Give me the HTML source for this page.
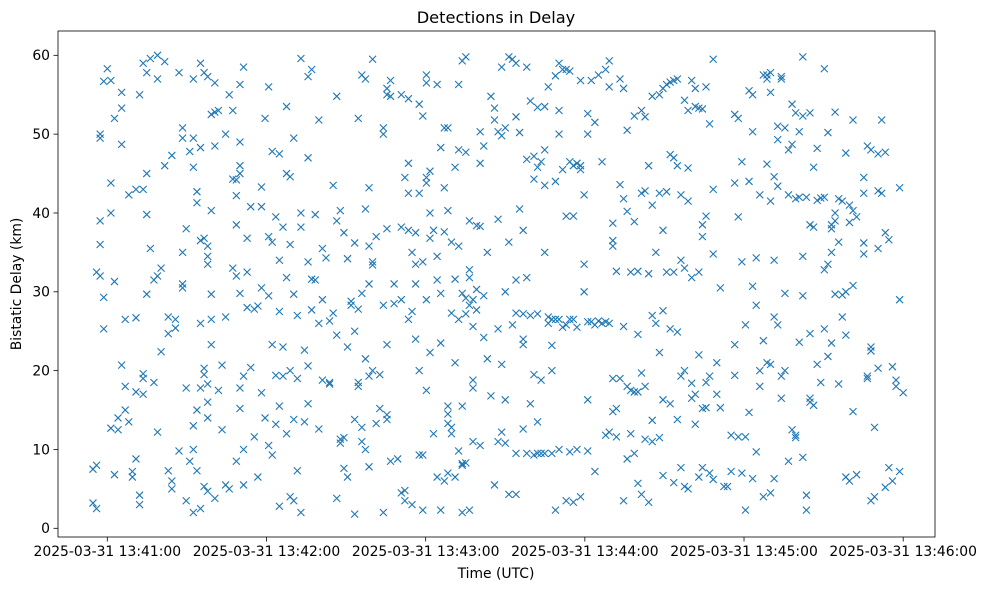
<!DOCTYPE html>
<html><head><meta charset="utf-8"><style>
body{margin:0;background:#fff;}
svg{display:block;font-family:"DejaVu Sans","Liberation Sans",sans-serif;}
</style></head><body>
<svg id="chart" width="986" height="590" viewBox="0 0 986 590" xmlns="http://www.w3.org/2000/svg">
<rect x="0" y="0" width="986" height="590" fill="#fff"/>
<text x="496" y="23" font-size="16.2" text-anchor="middle">Detections in Delay</text>
<g id="marks"></g>
<g id="axes"></g>
<rect x="58" y="31" width="877" height="506" fill="none" stroke="#000" stroke-width="0.8"/>
<text x="496" y="578" font-size="13.9" text-anchor="middle">Time (UTC)</text>
<text x="21" y="284" font-size="13.9" text-anchor="middle" transform="rotate(-90 21 284)">Bistatic Delay (km)</text>
</svg>
<script>
const xTickSeconds=[0,60,120,180,240,300];
const xTickLabels=["2025-03-31 13:41:00","2025-03-31 13:42:00","2025-03-31 13:43:00","2025-03-31 13:44:00","2025-03-31 13:45:00","2025-03-31 13:46:00"];
const yTickValues=[0,10,20,30,40,50,60];
// relative time index, bistatic delay (km)
const timeSec=[];
const delayKm=[];
const raw=[[-4,7.5],[-4,3.2],[-3,8],[-3,2.5],[-3,32.5],[-2,50],[-2,49.5],[-2,39],[-2,36],[-2,32],[-1,29.3],[-1,25.3],[-1,56.7],[0,58.3],[1,56.8],[1,43.8],[1,40],[1,12.7],[2,52],[2,31.3],[2,6.8],[3,14],[3,12.5],[4,55.3],[4,48.7],[4,53.3],[4,20.7],[5,26.5],[5,18],[5,15],[6,42.3],[6,13.5],[7,7.2],[7,6.5],[8,43],[8,26.7],[8,17.3],[8,8.8],[9,55],[9,4.2],[9,3],[10,59],[10,43],[10,19.6],[10,19],[10,17],[11,57.8],[11,45],[11,39.8],[11,29.7],[12,59.6],[12,35.5],[13,18.5],[13,31.5],[14,57],[14,60],[14,32],[14,12.2],[15,33],[15,22.4],[16,59.2],[16,46],[17,26.8],[17,24.7],[17,7.3],[18,47.3],[18,6],[18,5],[19,26.5],[19,25.4],[20,57.8],[20,9.8],[21,50.8],[21,49.5],[21,35],[21,31],[21,30.5],[22,38],[22,17.8],[22,3.5],[23,47.8],[23,8.5],[24,57],[24,45.8],[24,49.5],[24,13],[24,10],[24,2],[25,42.7],[25,41.3],[25,15],[25,7.3],[26,59],[26,48.3],[26,36.5],[26,26],[26,17.8],[26,2.5],[27,57.8],[27,36.8],[27,20.3],[27,19.5],[27,5.3],[28,57.3],[28,35.8],[28,33.5],[28,34.5],[28,18.3],[28,16],[28,14],[28,4.7],[29,52.5],[29,40.3],[29,29.7],[29,26.5],[29,23.3],[30,56.5],[30,52.8],[30,48.5],[30,3.8],[31,53],[31,17.5],[32,20.7],[32,12.5],[33,50],[33,26.8],[33,5.5],[34,55],[34,5],[35,53],[35,44.3],[35,33],[36,44.2],[36,38.5],[36,32],[36,42.2],[36,8.5],[37,56.3],[37,49],[37,46],[37,45],[37,29.8],[37,17.8],[37,15.2],[38,58.5],[38,19.3],[38,10],[38,5.5],[39,36.8],[39,32.5],[39,28],[40,40.8],[40,20.4],[41,27.8],[41,11.6],[42,28.2],[42,6.5],[43,43.3],[43,40.8],[43,30.5],[43,17.2],[44,52],[44,14],[45,56],[45,37],[45,29.5],[45,10.5],[46,47.8],[46,36.3],[46,23.3],[46,9.3],[47,39.5],[47,19.4],[47,13.2],[48,47.5],[48,34],[48,27.5],[48,15.5],[48,2.8],[49,38.2],[49,23],[49,19.3],[50,53.5],[50,45],[50,31.8],[50,12],[51,44.6],[51,36],[51,20],[51,4],[52,49.5],[52,29.7],[52,13.8],[52,3.5],[53,27],[53,19],[53,7.3],[54,59.6],[54,40],[54,38.2],[54,2],[55,22.6],[55,13.5],[56,57.3],[56,47],[56,33.8],[56,20.6],[56,15.8],[57,58.2],[57,31.6],[57,27.7],[58,39.8],[58,31.5],[59,51.8],[59,26],[59,12.6],[60,35.5],[60,29],[60,18.8],[61,34.3],[62,26.3],[62,18.5],[62,18.3],[63,43.5],[63,27.3],[64,54.8],[64,39],[64,24.5],[64,3.8],[65,40.3],[65,11.3],[65,10.8],[66,37.5],[66,11.5],[66,7.6],[67,34.2],[67,23],[67,6.5],[68,28.3],[68,28.8],[69,36.2],[69,25],[69,13.8],[69,1.8],[70,52],[70,27.8],[70,18],[70,18.5],[71,57.5],[71,29.8],[71,12.8],[71,11],[72,57],[72,40.5],[72,21.5],[72,10],[73,43.2],[73,35.8],[73,31],[73,19.3],[73,7.8],[74,59.5],[74,33.4],[74,33.8],[74,20],[75,37],[75,13.3],[76,19.5],[76,15.2],[77,50.8],[77,50],[77,28.3],[77,2],[78,55.8],[78,55],[78,38],[78,23.3],[78,14.4],[78,13.8],[79,56.8],[79,54.8],[79,8.5],[80,31],[80,28.5],[81,8.8],[82,55],[82,38.2],[82,29],[82,4.5],[83,44.5],[83,4.8],[83,3.5],[84,42.5],[84,37.8],[84,46.3],[84,54.5],[84,26.5],[85,35],[85,27.5],[85,3],[86,37.5],[86,33.5],[86,31],[86,24],[87,53.8],[87,42.5],[87,20],[87,9.3],[88,52.3],[88,33.8],[88,9.3],[88,2.3],[89,57.5],[89,56.5],[89,44.5],[89,43.8],[89,29],[89,17.5],[90,45.3],[90,36.8],[90,40],[90,22.3],[91,37.8],[91,12],[92,56.3],[92,34.5],[92,31.5],[92,6.5],[93,48.3],[93,29.8],[93,23.5],[93,2.3],[94,50.8],[94,43.2],[94,37.6],[94,6],[95,50.8],[95,40.3],[95,15.5],[95,14.5],[95,13.3],[95,7],[96,36.3],[96,27.3],[96,12.8],[96,12],[97,45.8],[97,31.6],[97,21],[97,6.5],[98,56.3],[98,48],[98,35.8],[98,26.5],[98,9.8],[99,59.3],[99,29.8],[99,15.5],[99,8.2],[99,8],[99,2],[100,47.7],[100,59.8],[100,29.2],[100,27.2],[100,8.3],[101,39],[101,32.8],[101,31.8],[101,28.3],[101,2.3],[102,29],[102,25.6],[102,18.8],[102,17.8],[102,11],[103,38.4],[103,30.3],[103,27.7],[104,38.3],[104,50.3],[104,46.3],[104,10.5],[105,48.5],[105,29.5],[105,24.2],[106,35],[106,21.5],[107,54.8],[107,16.8],[108,53.3],[108,51.8],[108,5.5],[109,50.3],[109,39.2],[109,25.3],[109,11],[110,58.5],[110,49.8],[110,20.8],[110,12.2],[111,50.8],[111,30],[111,16.3],[111,10.8],[112,59.8],[112,36.3],[112,4.3],[113,59.5],[113,25.8],[114,59],[114,52.2],[114,31.5],[114,27.3],[114,9.5],[114,4.3],[115,50.2],[115,40.5],[116,37.8],[116,27.2],[116,24],[116,23.3],[116,12.6],[117,58.5],[117,46.8],[117,31.8],[117,9.5],[118,54.2],[118,27],[118,15.8],[119,47.2],[119,44.3],[119,19.5],[119,9.3],[120,53.4],[120,45.8],[120,27.2],[120,13.5],[120,9.5],[121,46.5],[121,18.8],[121,9.5],[122,53.5],[122,48],[122,43.5],[122,35],[122,9.5],[123,56],[123,26.8],[123,26],[124,26.5],[124,23.2],[124,20],[124,9.5],[125,57.4],[125,44],[125,26.5],[125,2.3],[126,59],[126,53],[126,50],[126,26.5],[126,10],[127,58.2],[127,45.5],[127,25.5],[128,58.2],[128,39.6],[128,25.8],[128,3.5],[129,58],[129,46.5],[129,26.5],[129,9.7],[130,46],[130,39.6],[130,26.5],[130,3.3],[131,46.3],[131,25.5],[131,10],[132,56.8],[132,46],[132,45.5],[132,4],[133,42.3],[133,33.5],[133,30],[134,52.6],[134,50],[134,26.2],[134,16.3],[134,9.8],[135,56.8],[135,26.2],[136,51.5],[136,25.8],[136,7.2],[137,57.5],[137,26.3],[138,46.5],[138,26],[139,58.2],[139,26.2],[139,11.8],[140,59.3],[140,56],[140,26],[140,12.2],[141,38.7],[141,36.5],[141,35.8],[141,19],[141,14.8],[142,32.6],[142,15.2],[142,11.6],[143,57],[143,43.6],[143,19],[144,55.8],[144,41.8],[144,25.6],[144,3.5],[145,50.5],[145,40.2],[145,18],[145,8.8],[146,32.5],[146,17.5],[146,12],[147,52.3],[147,38.9],[147,17.3],[147,9.5],[148,32.6],[148,24.6],[148,17.3],[148,5.7],[149,53],[149,42.5],[149,19.7],[149,4.3],[150,52.2],[150,42.8],[150,18],[150,11.3],[151,46],[151,32.3],[151,3.3],[152,54.8],[152,41],[152,27],[152,13.7],[152,11],[153,35],[153,26],[154,55],[154,42.5],[154,22.3],[154,11.5],[155,55.8],[155,37.8],[155,27.6],[155,16.3],[155,6.7],[156,56.3],[156,42.7],[156,32.5],[157,56.6],[157,47.4],[157,25.3],[157,15.8],[158,56.8],[158,47],[158,32.5],[158,5.8],[159,57],[159,46],[159,24.9],[159,13.8],[160,42.3],[160,34],[160,19.3],[160,7.7],[161,54.3],[161,33],[161,20],[161,5.3],[162,53],[162,45.7],[162,41.5],[162,5],[163,56.8],[163,31.8],[163,18.4],[163,16.5],[164,53.5],[164,55.8],[164,17],[164,13.2],[165,53.3],[165,32.5],[165,22],[165,6.5],[166,53.2],[166,38.5],[166,37],[166,15.2],[166,7.7],[167,56],[167,39.6],[167,18.5],[167,15.3],[168,51.3],[168,19.3],[168,7],[169,59.5],[169,43],[169,34.8],[169,6.2],[170,21],[170,17],[171,30.5],[171,15.3],[172,5.3],[173,5.3],[174,7.2],[174,11.8],[175,52.5],[175,43.8],[175,23.3],[175,19.4],[176,39.5],[176,52],[176,11.6],[177,46.5],[177,33.8],[177,7],[178,25.8],[178,11.6],[178,2.3],[179,55.5],[179,44],[179,14.7],[180,55],[180,50.3],[180,30.7],[180,6.3],[181,34.3],[181,28.3],[181,9.7],[182,42.3],[182,20],[182,18],[183,57.5],[183,23.8],[183,4],[184,57.5],[184,57],[184,46.2],[184,21],[185,57.8],[185,55.3],[185,41.5],[185,20.8],[185,4.5],[186,44.6],[186,34],[186,26.8],[186,6.3],[187,51],[187,49.3],[187,43.4],[187,25.8],[188,57],[188,57.3],[188,19.3],[188,16.5],[189,50.8],[189,29.8],[189,20],[190,48],[190,42.3],[190,8.5],[191,53.8],[191,48.7],[191,12.5],[192,52.7],[192,41.8],[192,11.8],[192,11.5],[193,50.3],[193,42],[193,23.6],[194,52.3],[194,59.8],[194,34.5],[194,29.5],[194,9],[195,42],[195,4.2],[195,2.3],[196,52.7],[196,38.5],[196,24.7],[196,16.5],[196,16],[197,45.8],[197,38.2],[197,15.6],[198,48.2],[198,41.6],[198,20.8],[199,41.9],[199,18.5],[200,58.3],[200,42],[200,32.8],[200,25.3],[201,50.2],[201,33.5],[201,21.8],[202,38.5],[202,38],[202,35],[202,23.5],[203,52.8],[203,40],[203,39],[203,29.7],[204,41.8],[204,36.3],[204,18.3],[205,41.5],[205,29.6],[205,26.8],[206,47.6],[206,30],[206,24.5],[206,6.5],[207,38.8],[207,41],[207,6],[208,51.8],[208,40.3],[208,30.8],[208,14.8],[209,39.5],[209,6.8],[211,42.5],[211,44.5],[211,36.2],[211,34.8],[212,48.5],[212,19.3],[212,19],[213,48],[213,23],[213,22.5],[213,3.5],[214,12.8],[214,4],[215,47.5],[215,42.8],[215,35.5],[215,20.3],[216,51.8],[216,42.5],[217,47.7],[217,37.5],[217,5.2],[218,7.7],[218,36.6],[219,20.5],[219,6],[220,18.8],[220,18],[221,43.2],[221,29],[221,7.2],[222,17.2]];
raw.forEach(p=>{timeSec.push(p[0]);delayKm.push(p[1]);});
const timeScale=300/222;

const NS="http://www.w3.org/2000/svg";
function xScale(t){return 107.3+t*2.653;}
function yScale(v){return 528.3-v*7.883;}
const marks=document.getElementById('marks');
for(let i=0;i<timeSec.length;i++){
  const cx=xScale(timeSec[i]*timeScale), cy=yScale(delayKm[i]);
  const p=document.createElementNS(NS,'path');
  p.setAttribute('d',`M${cx-3.5},${cy-3.5}L${cx+3.5},${cy+3.5}M${cx-3.5},${cy+3.5}L${cx+3.5},${cy-3.5}`);
  p.setAttribute('stroke','#1f77b4');
  p.setAttribute('stroke-width','1.1');
  
  
  marks.appendChild(p);
}
const axes=document.getElementById('axes');
xTickSeconds.forEach((s,i)=>{
  const x=xScale(s);
  const l=document.createElementNS(NS,'line');
  l.setAttribute('x1',x);l.setAttribute('x2',x);l.setAttribute('y1',537);l.setAttribute('y2',541.5);
  l.setAttribute('stroke','#000');l.setAttribute('stroke-width','0.8');
  
  
  axes.appendChild(l);
  const t=document.createElementNS(NS,'text');
  t.setAttribute('x',x);t.setAttribute('y',556);t.setAttribute('font-size','13.9');t.setAttribute('text-anchor','middle');
  t.textContent=xTickLabels[i];
  
  
  axes.appendChild(t);
});
yTickValues.forEach(v=>{
  const y=yScale(v);
  const l=document.createElementNS(NS,'line');
  l.setAttribute('x1',53.5);l.setAttribute('x2',58);l.setAttribute('y1',y);l.setAttribute('y2',y);
  l.setAttribute('stroke','#000');l.setAttribute('stroke-width','0.8');
  
  
  axes.appendChild(l);
  const t=document.createElementNS(NS,'text');
  t.setAttribute('x',50);t.setAttribute('y',y+4.8);t.setAttribute('font-size','13.9');t.setAttribute('text-anchor','end');
  t.textContent=String(v);
  
  
  axes.appendChild(t);
});
</script>
</body></html>
